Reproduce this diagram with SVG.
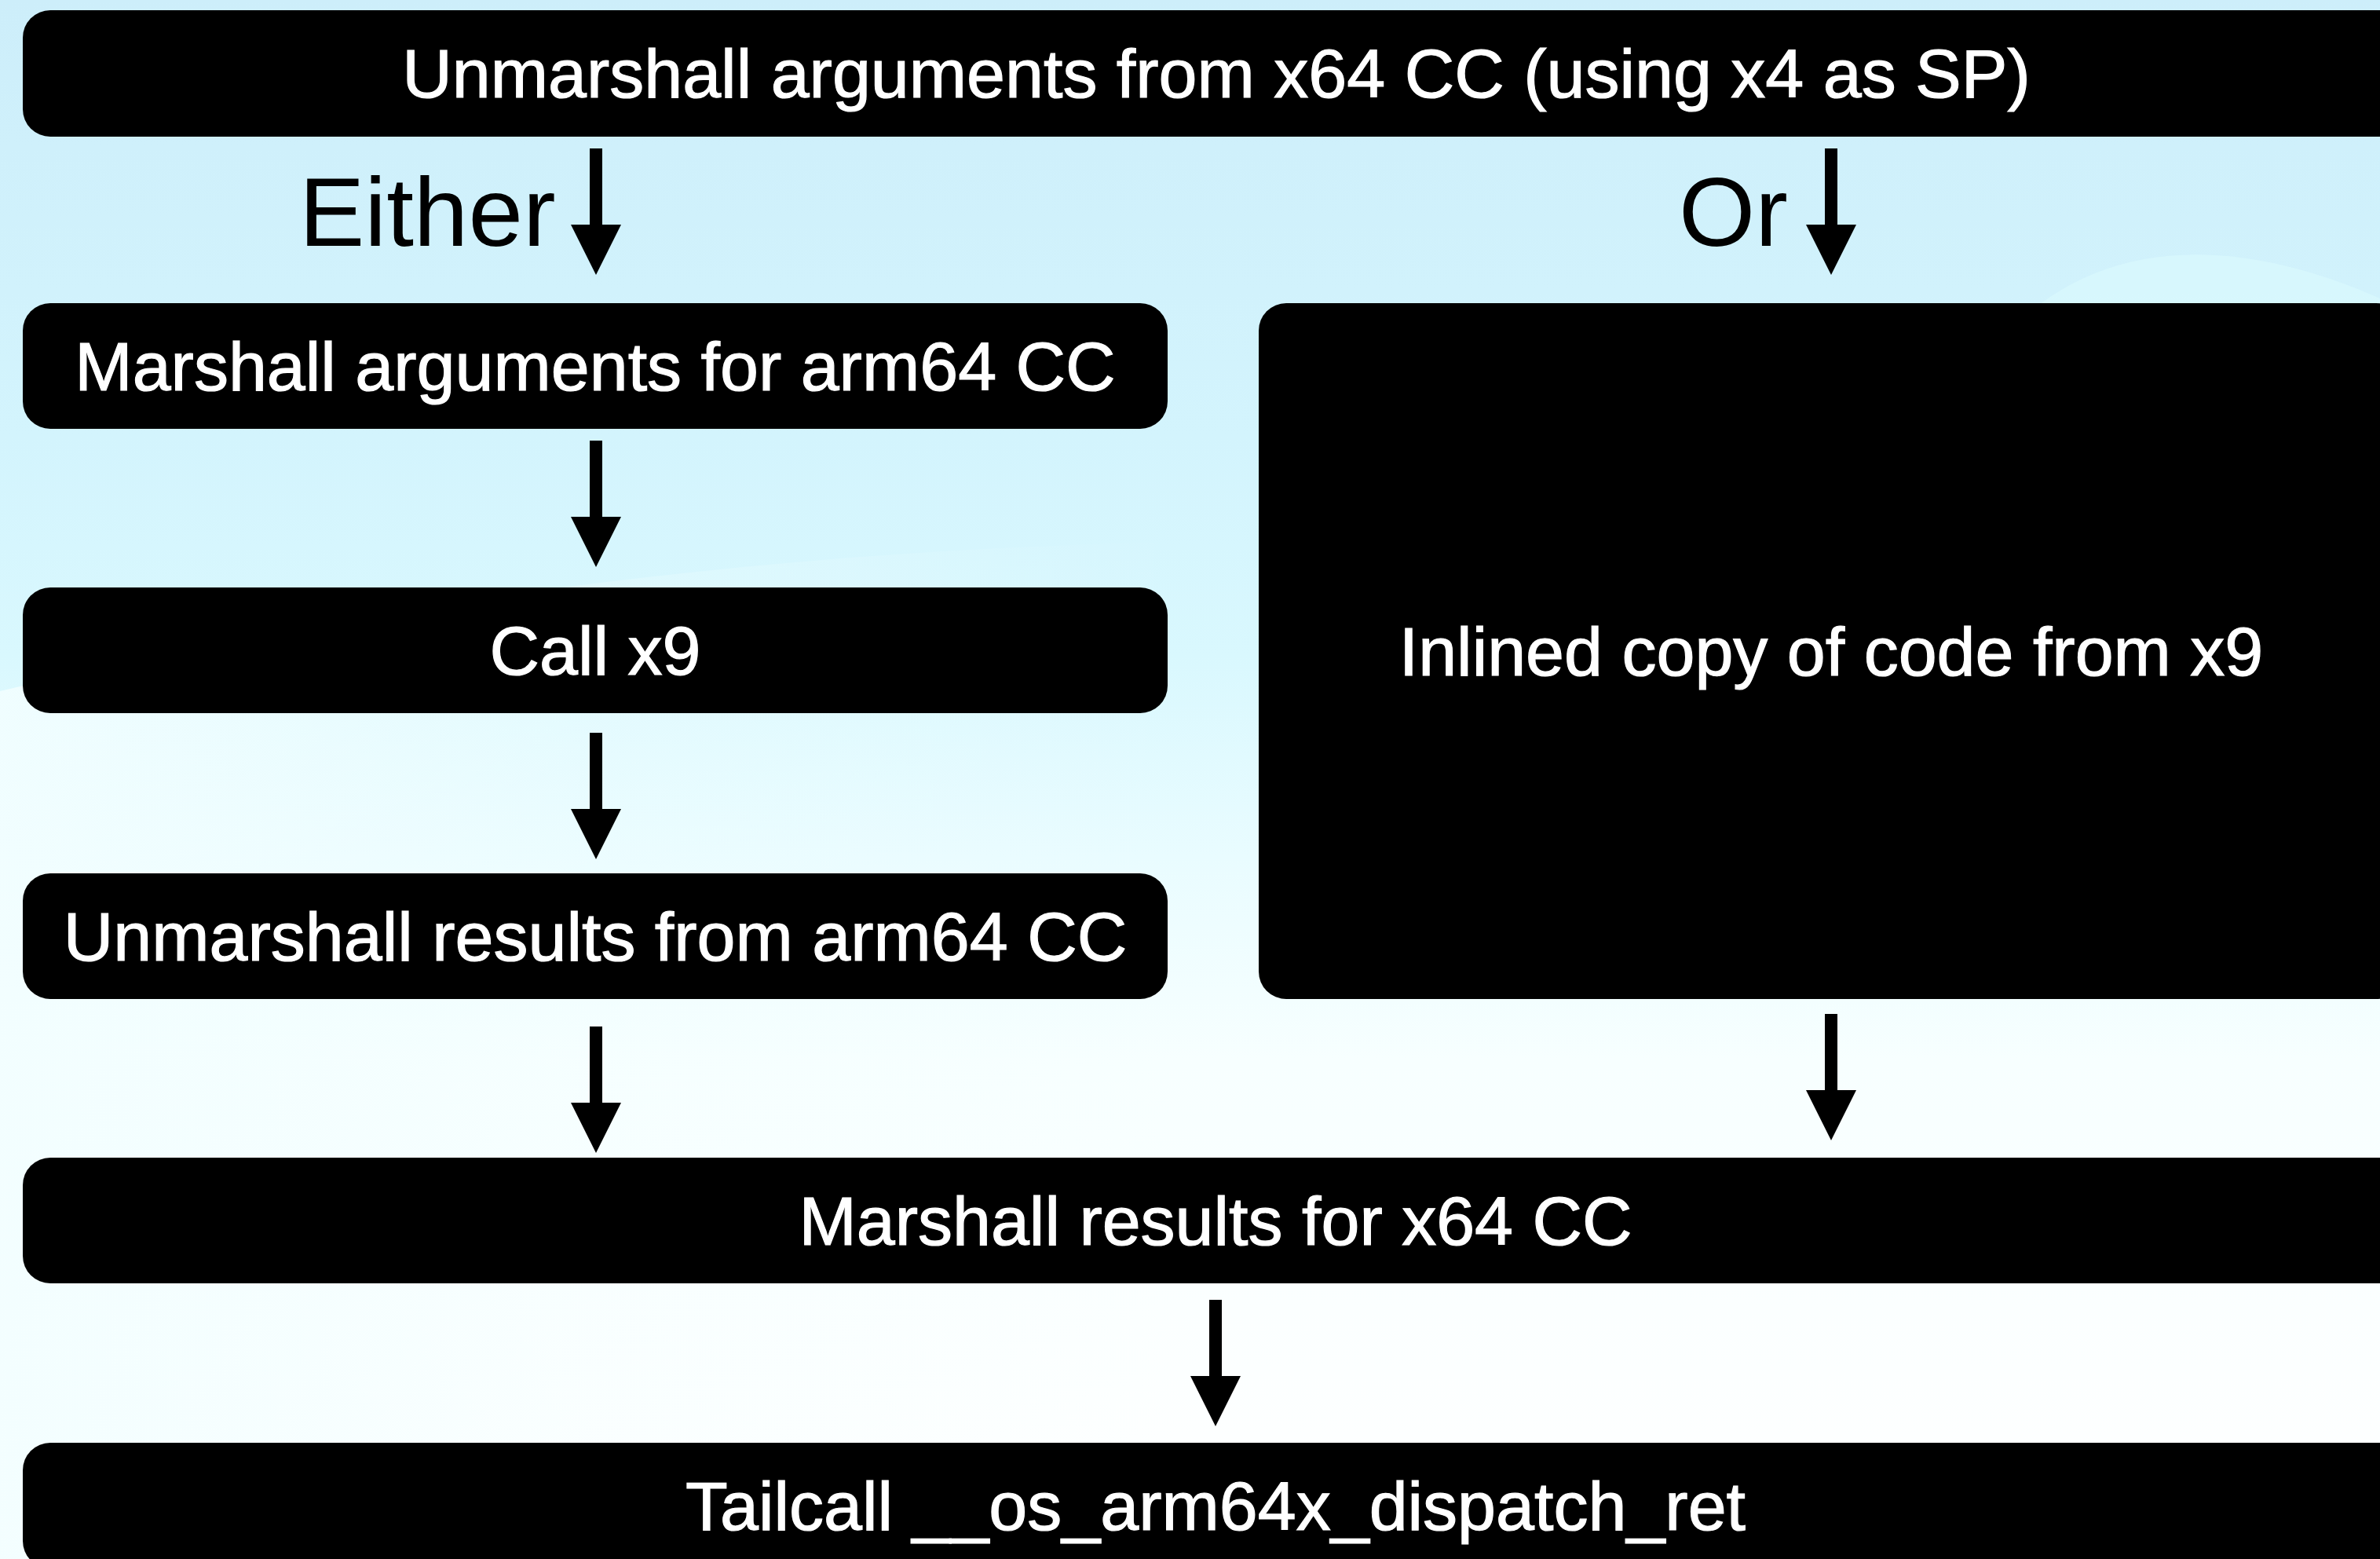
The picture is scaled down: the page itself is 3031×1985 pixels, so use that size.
<svg xmlns="http://www.w3.org/2000/svg" xmlns:xlink="http://www.w3.org/1999/xlink" width="3031" height="1985" viewBox="0 0 3031 1985">
  <style>
    .box { fill: #000000; }
    .label { font-family: "Liberation Sans", Arial, Helvetica, sans-serif; font-size: 88px; fill: #ffffff; stroke: #ffffff; stroke-width: 1.2px; text-anchor: middle; }
    .branch { font-family: "Liberation Sans", Arial, Helvetica, sans-serif; font-size: 125px; fill: #000000; }
    .arrow { fill: #000000; }
  </style>
  <defs>
    <linearGradient id="sky" x1="0" y1="0" x2="0" y2="1">
      <stop offset="0" stop-color="#cdeefa"/>
      <stop offset="0.28" stop-color="#d3f4fd"/>
      <stop offset="0.42" stop-color="#d9f8fe"/>
      <stop offset="0.55" stop-color="#e9fcff"/>
      <stop offset="0.68" stop-color="#f7ffff"/>
      <stop offset="1" stop-color="#ffffff"/>
    </linearGradient>
    <linearGradient id="haze" x1="0" y1="0" x2="1" y2="0">
      <stop offset="0" stop-color="#f2feff" stop-opacity="0.9"/>
      <stop offset="0.5" stop-color="#f2feff" stop-opacity="0.3"/>
      <stop offset="1" stop-color="#f2feff" stop-opacity="0"/>
    </linearGradient>
    <!-- down arrow, tip 161px below its origin -->
    <path id="down" d="M-8,0 H8 V97 H32 L0,161 L-32,97 H-8 Z"/>
  </defs>

  <!-- backdrop -->
  <rect x="0" y="0" width="3031" height="1985" fill="url(#sky)"/>
  <path d="M0,880 C500,760 1000,700 1500,690 L1500,1985 L0,1985 Z" fill="url(#haze)"/>
  <path d="M2560,420 C2680,300 2850,300 3031,380 L3031,460 L2560,460 Z" fill="#daf9fe" opacity="0.7"/>

  <g id="unmarshall-args">
    <rect class="box" x="29" y="13" width="3038" height="161" rx="35"/>
    <text class="label" x="1549" y="124">Unmarshall arguments from x64 CC (using x4 as SP)</text>
  </g>

  <g id="either-label">
    <text class="branch" x="381" y="313">Either</text>
  </g>
  <g id="or-label">
    <text class="branch" x="2138" y="313">Or</text>
  </g>

  <g id="marshall-args">
    <rect class="box" x="29" y="386" width="1458" height="160" rx="35"/>
    <text class="label" x="758" y="497">Marshall arguments for arm64 CC</text>
  </g>

  <g id="inlined-copy">
    <rect class="box" x="1603" y="386" width="1458" height="886" rx="35"/>
    <text class="label" x="2332" y="860">Inlined copy of code from x9</text>
  </g>

  <g id="call-x9">
    <rect class="box" x="29" y="748" width="1458" height="160" rx="35"/>
    <text class="label" x="758" y="859">Call x9</text>
  </g>

  <g id="unmarshall-results">
    <rect class="box" x="29" y="1112" width="1458" height="160" rx="35"/>
    <text class="label" x="758" y="1223">Unmarshall results from arm64 CC</text>
  </g>

  <g id="marshall-results">
    <rect class="box" x="29" y="1474" width="3038" height="160" rx="35"/>
    <text class="label" x="1548" y="1585">Marshall results for x64 CC</text>
  </g>

  <g id="tailcall">
    <rect class="box" x="29" y="1837" width="3038" height="160" rx="35"/>
    <text class="label" x="1548" y="1948">Tailcall __os_arm64x_dispatch_ret</text>
  </g>

  <g id="connectors" class="arrow">
    <use xlink:href="#down" href="#down" x="759" y="189"/>
    <use xlink:href="#down" href="#down" x="2332" y="189"/>
    <use xlink:href="#down" href="#down" x="759" y="561"/>
    <use xlink:href="#down" href="#down" x="759" y="933"/>
    <use xlink:href="#down" href="#down" x="759" y="1307"/>
    <use xlink:href="#down" href="#down" x="2332" y="1291"/>
    <use xlink:href="#down" href="#down" x="1548" y="1655"/>
  </g>
</svg>
